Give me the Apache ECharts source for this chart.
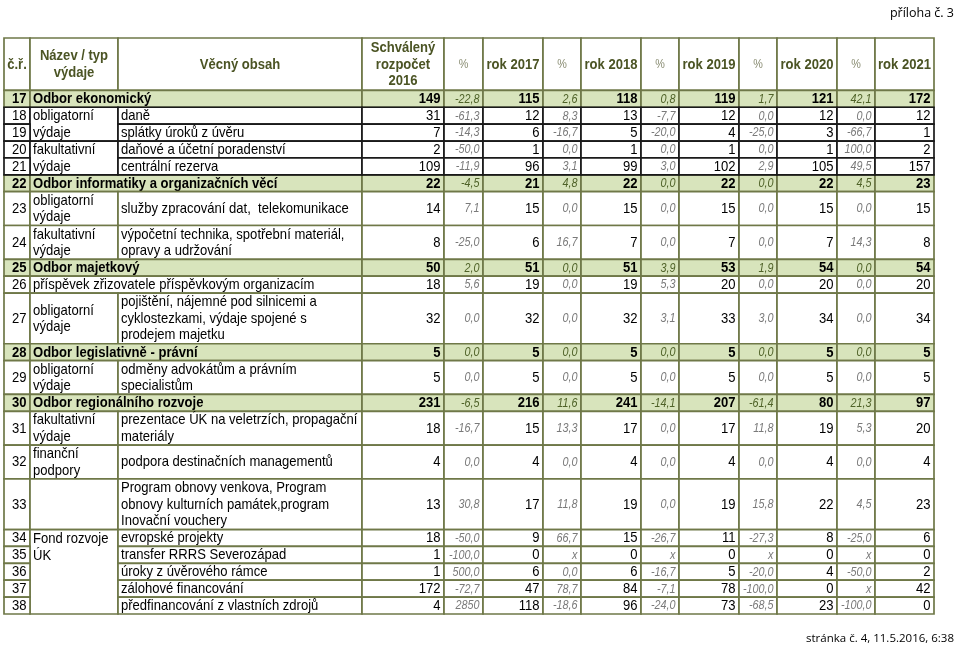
<!DOCTYPE html>
<html><head><meta charset="utf-8">
<script src="https://cdn.jsdelivr.net/npm/echarts@6/dist/echarts.min.js"></script>
<style>html,body{margin:0;padding:0;background:#fff}#c{width:959px;height:652px}</style>
</head><body><div id="c"></div>
<script>
// ---------- DATA ----------
const headers = ["č.ř.", "Název / typ\nvýdaje", "Věcný obsah", "Schválený\nrozpočet\n2016", "%", "rok 2017", "%", "rok 2018", "%", "rok 2019", "%", "rok 2020", "%", "rok 2021"];
const rowNo = [17,18,19,20,21,22,23,24,25,26,27,28,29,30,31,32,33,34,35,36,37,38];
const rowKind = ["dept","item","item","item","item","dept","item","item","dept","wide","item","dept","item","dept","item","item","item","item","item","item","item","item"];
const typeLabels = ["Odbor ekonomický","obligatorní\nvýdaje",null,"fakultativní\nvýdaje",null,"Odbor informatiky a organizačních věcí","obligatorní\nvýdaje","fakultativní\nvýdaje","Odbor majetkový","příspěvek zřizovatele příspěvkovým organizacím","obligatorní\nvýdaje","Odbor legislativně - právní","obligatorní\nvýdaje","Odbor regionálního rozvoje","fakultativní\nvýdaje","finanční\npodpory","","Fond rozvoje\nÚK",null,null,null,null];
const contents = ["","daně","splátky úroků z úvěru","daňové a účetní poradenství","centrální rezerva","","služby zpracování dat,  telekomunikace","výpočetní technika, spotřební materiál,\nopravy a udržování","","","pojištění, nájemné pod silnicemi a\ncyklostezkami, výdaje spojené s\nprodejem majetku","","odměny advokátům a právním\nspecialistům","","prezentace ÚK na veletrzích, propagační\nmateriály","podpora destinačních managementů","Program obnovy venkova, Program\nobnovy kulturních památek,program\nInovační vouchery","evropské projekty","transfer RRRS Severozápad","úroky z úvěrového rámce","zálohové financování","předfinancování z vlastních zdrojů"];
const budget2016 = [149,31,7,2,109,22,14,8,50,18,32,5,5,231,18,4,13,18,1,1,172,4];
const pct2017 = [-22.8,-61.3,-14.3,-50.0,-11.9,-4.5,7.1,-25.0,2.0,5.6,0.0,0.0,0.0,-6.5,-16.7,0.0,30.8,-50.0,-100.0,500.0,-72.7,2850];
const y2017 = [115,12,6,1,96,21,15,6,51,19,32,5,5,216,15,4,17,9,0,6,47,118];
const pct2018 = [2.6,8.3,-16.7,0.0,3.1,4.8,0.0,16.7,0.0,0.0,0.0,0.0,0.0,11.6,13.3,0.0,11.8,66.7,null,0.0,78.7,-18.6];
const y2018 = [118,13,5,1,99,22,15,7,51,19,32,5,5,241,17,4,19,15,0,6,84,96];
const pct2019 = [0.8,-7.7,-20.0,0.0,3.0,0.0,0.0,0.0,3.9,5.3,3.1,0.0,0.0,-14.1,0.0,0.0,0.0,-26.7,null,-16.7,-7.1,-24.0];
const y2019 = [119,12,4,1,102,22,15,7,53,20,33,5,5,207,17,4,19,11,0,5,78,73];
const pct2020 = [1.7,0.0,-25.0,0.0,2.9,0.0,0.0,0.0,1.9,0.0,3.0,0.0,0.0,-61.4,11.8,0.0,15.8,-27.3,null,-20.0,-100.0,-68.5];
const y2020 = [121,12,3,1,105,22,15,7,54,20,34,5,5,80,19,4,22,8,0,4,0,23];
const pct2021 = [42.1,0.0,-66.7,100.0,49.5,4.5,0.0,14.3,0.0,0.0,0.0,0.0,0.0,21.3,5.3,0.0,4.5,-25.0,null,-50.0,null,-100.0];
const y2021 = [172,12,1,2,157,23,15,8,54,20,34,5,5,97,20,4,23,6,0,2,42,0];

// ---------- LAYOUT ----------
const colWidths = [26, 88, 244, 82, 39, 60, 38, 60, 38, 60, 38, 60, 38, 59];
const headerUnits = 3.1;
const rowUnits = [1,1,1,1,1,1,2,2,1,1,3,1,2,1,2,2,3,1,1,1,1,1];
const typeSpan = [1,2,0,2,0,1,1,1,1,1,1,1,1,1,1,1,1,5,0,0,0,0];
const blackRows = [1,2,3,4];

const FONT = '"Liberation Sans", Arial, sans-serif';
const OLIVE = '#6f7848', BLACK = '#1a1a1a', GREEN = '#d8e4bc';
const SX = 0.9;

const colEdges = [0];
colWidths.forEach(w => colEdges.push(colEdges[colEdges.length - 1] + w));
const rowEdges = [headerUnits];
rowUnits.forEach(u => rowEdges.push(rowEdges[rowEdges.length - 1] + u));
const totalW = colEdges[colEdges.length - 1];
const totalH = rowEdges[rowEdges.length - 1];

const fmtPct = v => v === null ? 'x' : (Math.abs(v) >= 1000 ? String(v) : v.toFixed(1).replace('.', ','));
const valueCols = [budget2016, pct2017, y2017, pct2018, y2018, pct2019, y2019, pct2020, y2020, pct2021, y2021];

const cells = [];
function cell(c0, c1, r0, r1, o) {
  cells.push(Object.assign({x0: colEdges[c0], x1: colEdges[c1], y0: r0, y1: r1}, o));
}
// header
headers.forEach((h, i) => {
  const isPct = h === '%';
  cell(i, i + 1, 0, headerUnits, {text: h, align: 'center', valign: 'middle',
    font: (isPct ? 'normal 12px ' : 'bold 14.5px ') + FONT, color: isPct ? '#8a8d73' : '#4b5424', fill: '#fff', stroke: OLIVE, lh: 16.5});
});
// body
rowNo.forEach((n, r) => {
  const y0 = rowEdges[r], y1 = rowEdges[r + 1];
  const dept = rowKind[r] === 'dept';
  const stroke = blackRows.includes(r) ? BLACK : OLIVE;
  const fill = dept ? GREEN : '#fff';
  const w = dept ? 'bold ' : 'normal ';
  cell(0, 1, y0, y1, {text: String(n), align: 'right', valign: 'middle', font: w + '14.5px ' + FONT, color: '#000', fill, stroke});
  if (dept || rowKind[r] === 'wide') {
    cell(1, 3, y0, y1, {text: typeLabels[r], align: 'left', valign: 'middle', font: w + '14.5px ' + FONT, color: '#000', fill, stroke});
  } else {
    if (typeSpan[r] > 0) {
      const yEnd = rowEdges[r + typeSpan[r]];
      cell(1, 2, y0, yEnd, {text: typeLabels[r], align: 'left', valign: typeSpan[r] > 2 ? 'top' : 'middle',
        font: w + '14.5px ' + FONT, color: '#000', fill, stroke, lh: 16.6});
    }
    cell(2, 3, y0, y1, {text: contents[r], align: 'left', valign: 'middle', font: w + '14.5px ' + FONT, color: '#000', fill, stroke, lh: 16.6});
  }
  valueCols.forEach((arr, k) => {
    const isPct = k % 2 === 1;
    cell(3 + k, 4 + k, y0, y1, isPct
      ? {text: fmtPct(arr[r]), align: 'right', valign: 'middle', font: 'italic 12px ' + FONT, color: dept ? '#4f6228' : '#7a7a7a', fill, stroke}
      : {text: String(arr[r]), align: 'right', valign: 'middle', font: w + '14.5px ' + FONT, color: '#000', fill, stroke});
  });
});
// draw black-bordered cells last
cells.sort((a, b) => (a.stroke === BLACK) - (b.stroke === BLACK));

const chart = echarts.init(document.getElementById('c'), null, {renderer: 'canvas'});
chart.setOption({
  animation: false,
  title: [
    {text: 'příloha č. 3', right: 0, top: 2, textStyle: {fontFamily: '"Open Sans", sans-serif', fontSize: 12.5, fontWeight: 'normal', color: '#000'}},
    {text: 'stránka č. 4, 11.5.2016, 6:38', right: 0, bottom: 2, textStyle: {fontFamily: '"Open Sans", sans-serif', fontSize: 11.5, fontWeight: 'normal', color: '#000'}}
  ],
  grid: {left: 4, right: 25, top: 38, bottom: 38},
  xAxis: {type: 'value', min: 0, max: totalW, show: false},
  yAxis: {type: 'value', min: 0, max: totalH, inverse: true, show: false},
  series: [{
    type: 'custom', clip: false,
    data: cells.map(c => [c.x0, c.x1, c.y0, c.y1]),
    encode: {x: [0, 1], y: [2, 3]},
    renderItem: function (params, api) {
      const c = cells[params.dataIndex];
      const p0 = api.coord([api.value(0), api.value(2)]);
      const p1 = api.coord([api.value(1), api.value(3)]);
      const x = p0[0], y = p0[1], w = p1[0] - p0[0], h = p1[1] - p0[1];
      const pad = c.align === 'right' ? 3.5 : 3;
      const tx = c.align === 'left' ? x + pad : c.align === 'right' ? x + w - pad : x + w / 2;
      const ty = c.valign === 'top' ? y + 1.5 : y + h / 2 + 0.5;
      return {
        type: 'group',
        children: [
          {type: 'rect', shape: {x, y, width: w, height: h}, style: {fill: c.fill, stroke: c.stroke, lineWidth: 1.7}},
          {type: 'text', x: tx, y: ty, scaleX: SX, style: {text: c.text || '', x: 0, y: 0, align: c.align, verticalAlign: c.valign,
            font: c.font, fill: c.color, lineHeight: c.lh || 16}}
        ]
      };
    }
  }]
});
</script></body></html>
